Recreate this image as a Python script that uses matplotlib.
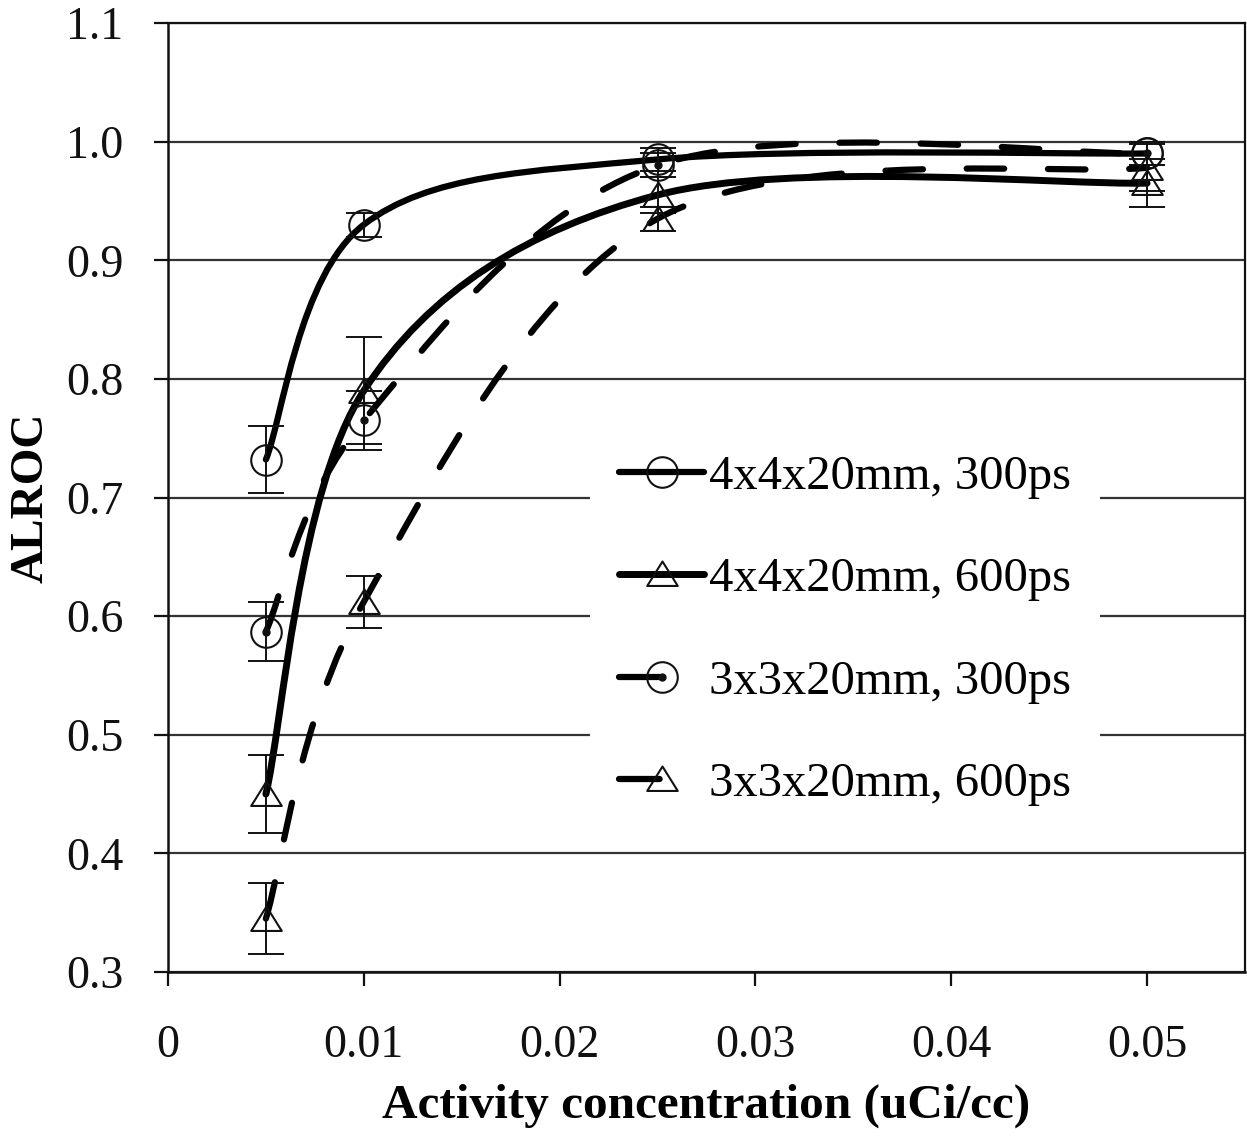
import numpy as np
import matplotlib.pyplot as plt
from matplotlib.path import Path
from matplotlib.patches import PathPatch
from matplotlib.lines import Line2D

plt.rcParams['font.family'] = ['Liberation Serif', 'DejaVu Serif']

# data
x_conc = [0.005, 0.01, 0.025, 0.05]

alroc_4x4_300 = [0.732, 0.930, 0.985, 0.990]
err_4x4_300 = [0.028, 0.010, 0.010, 0.010]

alroc_4x4_600 = [0.450, 0.790, 0.955, 0.965]
err_4x4_600 = [0.033, 0.045, 0.015, 0.020]

alroc_3x3_300 = [0.587, 0.765, 0.980, 0.990]
err_3x3_300 = [0.025, 0.025, 0.010, 0.010]

alroc_3x3_600 = [0.345, 0.612, 0.935, 0.978]
err_3x3_600 = [0.030, 0.022, 0.010, 0.020]

labels = ["4x4x20mm, 300ps", "4x4x20mm, 600ps", "3x3x20mm, 300ps", "3x3x20mm, 600ps"]
xticks = [0, 0.01, 0.02, 0.03, 0.04, 0.05]
xtick_labels = ["0", "0.01", "0.02", "0.03", "0.04", "0.05"]
yticks = [0.3, 0.4, 0.5, 0.6, 0.7, 0.8, 0.9, 1.0, 1.1]
ytick_labels = ["0.3", "0.4", "0.5", "0.6", "0.7", "0.8", "0.9", "1.0", "1.1"]

INK = "#111111"
tri = Path([(-1, -0.75), (1, -0.75), (0, 0.85), (-1, -0.75)],
           [Path.MOVETO, Path.LINETO, Path.LINETO, Path.CLOSEPOLY])


def smooth_path(xs, ys, t=1/6):
    #excel-like smoothed line, bezier segments between the data points
    pts = np.column_stack([xs, ys])
    n = len(pts)
    verts = [pts[0]]
    codes = [Path.MOVETO]
    for i in range(n - 1):
        p_prev = pts[max(i - 1, 0)]
        p_next2 = pts[min(i + 2, n - 1)]
        c1 = pts[i] + (pts[i + 1] - p_prev) * t
        c2 = pts[i + 1] - (p_next2 - pts[i]) * t
        verts += [c1, c2, pts[i + 1]]
        codes += [Path.CURVE4] * 3
    return Path(verts, codes)


fig = plt.figure(figsize=(12.47, 11.39), dpi=100)
ax = fig.add_axes([0.1347, 0.1466, 0.8637, 0.8332])

dash = (0, (6, 7))
series = [
    (alroc_4x4_300, err_4x4_300, "solid", "o", 4.5),
    (alroc_4x4_600, err_4x4_600, "solid", tri, 5.0),
    (alroc_3x3_300, err_3x3_300, dash, "o", 4.5),
    (alroc_3x3_600, err_3x3_600, dash, tri, 4.5),
]

handles = []
for k, (y, err, ls, mk, lw) in enumerate(series):
    patch = PathPatch(smooth_path(x_conc, y), facecolor="none", edgecolor="black",
                      lw=lw, linestyle=ls, capstyle="round", joinstyle="round", zorder=3 + k)
    ax.add_patch(patch)
    ax.errorbar(x_conc, y, yerr=err, fmt="none", ecolor=INK, elinewidth=1.4,
                capsize=13, capthick=1.4, zorder=3 + k)
    ax.plot(x_conc, y, linestyle="none", marker=mk, ms=22, mfc="none", mec=INK,
            mew=1.5, zorder=3 + k)
    # legend: dashed rows show only one dash ending at the marker
    leg_ls = (0, (6.5, 40)) if ls != "solid" else "solid"
    h = Line2D([], [], color="black", lw=lw, linestyle=leg_ls, dash_capstyle="round",
               solid_capstyle="round", marker=mk, ms=22, mfc="none", mec=INK, mew=1.5)
    if k == 2:
        ax.plot(x_conc, y, linestyle="none", marker="o", ms=5, color=INK, zorder=3 + k)
        h = (h, Line2D([], [], linestyle="none", marker="o", ms=5, color=INK))
    handles.append(h)

ax.set_xlim(0, 0.055)
ax.set_ylim(0.3, 1.1)
ax.set_xticks(xticks)
ax.set_xticklabels(xtick_labels)
ax.set_yticks(yticks)
ax.set_yticklabels(ytick_labels)
ax.tick_params(axis="both", direction="out", length=10, width=1.6, labelsize=33, colors=INK)
ax.tick_params(axis="x", pad=28)
ax.tick_params(axis="y", pad=22)
ax.grid(axis="y", color="#333333", lw=1.6)
ax.set_axisbelow(True)
for s in ax.spines.values():
    s.set_linewidth(1.8)
    s.set_color(INK)
ax.spines["top"].set_linewidth(1.6)
ax.spines["right"].set_linewidth(1.6)

ax.set_xlabel("Activity concentration (uCi/cc)", fontsize=35.5, fontweight="bold", labelpad=12)
ax.set_ylabel("ALROC", fontsize=34, fontweight="bold", labelpad=10)

leg = ax.legend(handles, labels, loc="center", bbox_to_anchor=(0.6286, 0.36),
                fontsize=35, frameon=True, facecolor="white", edgecolor="none",
                framealpha=1, fancybox=False, handlelength=1.75, handletextpad=0.1,
                labelspacing=1.2, borderpad=0.6, numpoints=1)
leg.set_zorder(10)

fig.savefig("out.png", dpi=100)
